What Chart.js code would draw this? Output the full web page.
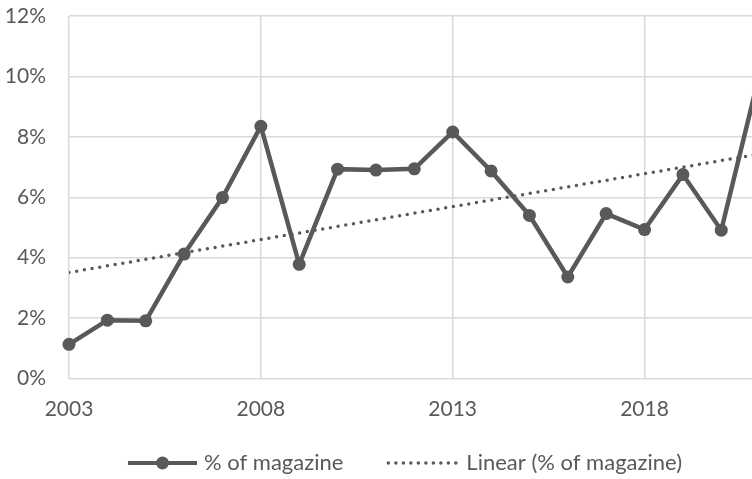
<!DOCTYPE html>
<html>
<head>
<meta charset="utf-8">
<title>% of magazine</title>
<script src="https://cdn.jsdelivr.net/npm/chart.js@4/dist/chart.umd.min.js"></script>
<style>
  html, body { margin: 0; padding: 0; background: #ffffff; overflow: hidden; }
  #wrap { position: relative; width: 810px; height: 479px; }
  canvas { display: block; }
</style>
</head>
<body>
<div id="wrap"><canvas id="chart" width="810" height="479"></canvas></div>
<script>
// Yearly share (%) of the magazine
const years = [2003, 2004, 2005, 2006, 2007, 2008, 2009, 2010, 2011, 2012,
               2013, 2014, 2015, 2016, 2017, 2018, 2019, 2020, 2021];
const magazineShare = [1.13, 1.93, 1.91, 4.12, 5.99, 8.35, 3.78, 6.93, 6.90, 6.94,
                       8.16, 6.87, 5.40, 3.36, 5.46, 4.93, 6.75, 4.91, 10.1];

// Linear trendline end points
const trendYears = [2003, 2022];
const trendShare = [3.51, 7.65];

// Axis ticks
const xTickYears = [2003, 2008, 2013, 2018];
const yTickValues = [0, 2, 4, 6, 8, 10, 12];

const seriesName = '% of magazine';
const trendName = 'Linear (% of magazine)';

const INK = '#595959';
const GRID = '#d9d9d9';
const FONT = 'Lato, "Open Sans", sans-serif';
const FONT_SIZE = 21;
const LEGEND_FONT_SIZE = 22;

// Legend drawn under the plot: solid line with marker, then dotted trendline
const bottomLegend = {
  id: 'bottomLegend',
  afterDraw(chart) {
    const ctx = chart.ctx;
    ctx.save();
    ctx.font = `${LEGEND_FONT_SIZE}px ${FONT}`;
    ctx.textBaseline = 'middle';
    const y = 463;
    const sym1 = 69, sym2 = 73, gapText = 7, gapItems = 43;
    const w1 = ctx.measureText(seriesName).width;
    const w2 = ctx.measureText(trendName).width;
    const total = sym1 + gapText + w1 + gapItems + sym2 + gapText + w2;
    let x = (chart.width - total) / 2;

    ctx.strokeStyle = INK;
    ctx.fillStyle = INK;
    ctx.lineWidth = 4;
    ctx.beginPath();
    ctx.moveTo(x, y);
    ctx.lineTo(x + sym1, y);
    ctx.stroke();
    ctx.beginPath();
    ctx.arc(x + sym1 / 2, y, 6.5, 0, Math.PI * 2);
    ctx.fill();
    x += sym1 + gapText;
    ctx.fillText(seriesName, x, y);
    x += w1 + gapItems;

    ctx.lineWidth = 3.5;
    ctx.lineCap = 'round';
    ctx.setLineDash([0, 7.5]);
    ctx.beginPath();
    ctx.moveTo(x + 2, y);
    ctx.lineTo(x + sym2, y);
    ctx.stroke();
    ctx.setLineDash([]);
    x += sym2 + gapText;
    ctx.fillText(trendName, x, y);
    ctx.restore();
  }
};

const tickFont = { family: FONT, size: FONT_SIZE };

new Chart(document.getElementById('chart'), {
  type: 'line',
  data: {
    datasets: [
      {
        label: seriesName,
        data: years.map((yr, i) => ({ x: yr, y: magazineShare[i] })),
        borderColor: INK,
        backgroundColor: INK,
        borderWidth: 4.5,
        pointRadius: 6.5,
        pointHoverRadius: 6.5,
        pointBackgroundColor: INK,
        pointBorderWidth: 0,
        tension: 0,
        clip: false
      },
      {
        label: trendName,
        data: trendYears.map((yr, i) => ({ x: yr, y: trendShare[i] })),
        borderColor: INK,
        borderWidth: 3.5,
        borderDash: [0, 7.8],
        borderCapStyle: 'round',
        pointRadius: 0,
        pointHoverRadius: 0,
        tension: 0
      }
    ]
  },
  options: {
    responsive: false,
    animation: false,
    events: [],
    layout: { padding: { top: 16, right: 12, bottom: 58, left: 0 } },
    plugins: {
      legend: { display: false },
      tooltip: { enabled: false }
    },
    scales: {
      x: {
        type: 'linear',
        min: 2003,
        max: 2022,
        afterBuildTicks: (scale) => { scale.ticks = xTickYears.map(v => ({ value: v })); },
        afterFit: (scale) => {
          scale.height = 42.5;
          scale.paddingLeft = 0;
          scale.paddingRight = 0;
        },
        ticks: {
          color: INK,
          font: tickFont,
          padding: 18,
          maxRotation: 0,
          autoSkip: false,
          callback: (v) => String(v)
        },
        grid: { color: GRID, lineWidth: 1.5, drawTicks: false },
        border: { display: false }
      },
      y: {
        min: 0,
        max: 12,
        afterBuildTicks: (scale) => { scale.ticks = yTickValues.map(v => ({ value: v })); },
        afterFit: (scale) => {
          scale.width = 69;
          scale.paddingTop = 0;
          scale.paddingBottom = 0;
        },
        ticks: {
          color: INK,
          font: tickFont,
          padding: 23,
          callback: (v) => v + '%'
        },
        grid: { color: GRID, lineWidth: 1.5, drawTicks: false },
        border: { display: false }
      }
    }
  },
  plugins: [bottomLegend]
});
</script>
</body>
</html>
